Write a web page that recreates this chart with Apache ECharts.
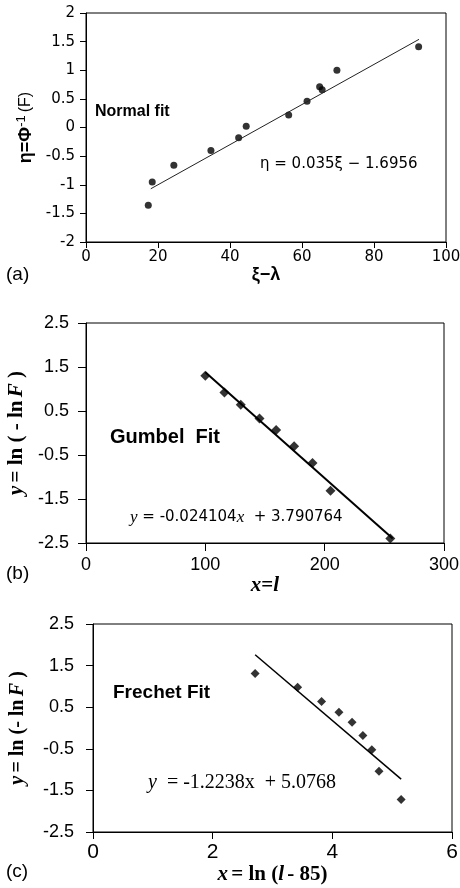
<!DOCTYPE html>
<html>
<head>
<meta charset="utf-8">
<script src="https://cdn.jsdelivr.net/npm/echarts@6/dist/echarts.min.js"></script>
<style>
  html, body { margin: 0; padding: 0; background: #fff; }
  #main { width: 460px; height: 888px; }
</style>
</head>
<body>
<div id="main"></div>
<script>
// (a) normal fit: xi - lambda vs eta
const normalPts = [
  [17.3, -1.36], [18.4, -0.95], [24.4, -0.66], [34.7, -0.40], [42.4, -0.18],
  [44.5, 0.02], [56.3, 0.22], [61.4, 0.46], [64.9, 0.71], [65.6, 0.66],
  [69.7, 1.00], [92.4, 1.41]
]
const normalFit = [[18, -1.07], [92.5, 1.54]]

// (b) Gumbel fit
const gumbelPts = [
  [100, 1.30], [116, 0.92], [129.7, 0.64], [145.4, 0.33], [159.3, 0.07],
  [174.4, -0.30], [189.8, -0.68], [204.9, -1.31], [255, -2.40]
]
const gumbelFit = [[100, 1.38], [257, -2.40]]

// (c) Frechet fit
const frechetPts = [
  [2.71, 1.31], [3.42, 0.98], [3.82, 0.64], [4.11, 0.38], [4.33, 0.14],
  [4.51, -0.18], [4.66, -0.52], [4.78, -1.04], [5.15, -1.72]
]
const frechetFit = [[2.71, 1.76], [5.15, -1.23]]

const chart = echarts.init(document.getElementById('main'))

const serif = '"Liberation Serif", "DejaVu Serif", serif'
const sans = '"Liberation Sans", Arial, sans-serif'
const wide = '"DejaVu Sans", sans-serif'

function xAxis (gi, min, max, step, font, size, margin, tick, name, gap, nameStyle) {
  return {
    type: 'value', gridIndex: gi, min: min, max: max, interval: step,
    axisLine: { show: true, onZero: false, lineStyle: { color: '#000', width: 1 } },
    axisTick: { show: true, length: tick, lineStyle: { color: '#000' } },
    axisLabel: { color: '#000', fontFamily: font, fontSize: size, margin: margin },
    splitLine: { show: false },
    name: name, nameLocation: 'middle', nameGap: gap, nameTextStyle: nameStyle
  }
}
function yAxis (gi, min, max, step, font, size, margin, tick, name, gap, nameStyle) {
  return {
    type: 'value', gridIndex: gi, min: min, max: max, interval: step,
    axisLine: { show: true, onZero: false, lineStyle: { color: '#000', width: 1 } },
    axisTick: { show: true, length: tick, lineStyle: { color: '#000' } },
    axisLabel: { color: '#000', fontFamily: font, fontSize: size, margin: margin },
    splitLine: { show: false },
    name: name, nameLocation: 'middle', nameGap: gap, nameRotate: 90, nameTextStyle: nameStyle
  }
}

function lnRich (size) {
  return {
    i: { fontFamily: serif, fontStyle: 'italic', fontWeight: 'bold', fontSize: size, color: '#000' },
    b: { fontFamily: serif, fontWeight: 'bold', fontSize: size, color: '#000' }
  }
}

const option = {
  animation: false,
  backgroundColor: '#fff',
  grid: [
    { left: 86, top: 13, width: 360, height: 229, show: true, borderColor: '#000', borderWidth: 1, outerBoundsMode: 'none' },
    { left: 86, top: 323, width: 358, height: 220, show: true, borderColor: '#000', borderWidth: 1, outerBoundsMode: 'none' },
    { left: 93, top: 624, width: 359, height: 208, show: true, borderColor: '#000', borderWidth: 1, outerBoundsMode: 'none' }
  ],
  xAxis: [
    xAxis(0, 0, 100, 20, wide, 15, 8, 6, 'ξ−λ', 22,
      { fontFamily: sans, fontWeight: 'bold', fontSize: 18, color: '#000' }),
    xAxis(1, 0, 300, 100, sans, 18, 13, 8, '{i|x}{b|=}{i|l}', 31, { rich: lnRich(21) }),
    xAxis(2, 0, 6, 2, sans, 21, 10, 7, '{i|x} {b|= ln (}{i|l} {b|- 85)}', 29, { rich: lnRich(21) })
  ],
  yAxis: [
    yAxis(0, -2, 2, 0.5, wide, 15, 11, 6, '{b|η=Φ}{s|-1}{r|(F)}', 48, {
      rich: {
        b: { fontFamily: sans, fontWeight: 'bold', fontSize: 18, color: '#000' },
        s: { fontFamily: sans, fontSize: 13, color: '#000', verticalAlign: 'top', padding: [0, 3, 8, 0] },
        r: { fontFamily: sans, fontSize: 16, color: '#000' }
      }
    }),
    yAxis(1, -2.5, 2.5, 1, sans, 18, 17, 8, '{i|y} {b|= ln ( - ln} {i|F }{b|)}', 49, { rich: lnRich(21) }),
    yAxis(2, -2.5, 2.5, 1, sans, 18, 19, 7, '{i|y} {b|= ln (- ln} {i|F }{b|)}', 65, { rich: lnRich(20) })
  ],
  series: [
    { type: 'scatter', xAxisIndex: 0, yAxisIndex: 0, data: normalPts, symbol: 'circle', symbolSize: 7, itemStyle: { color: '#000' } },
    { type: 'line', xAxisIndex: 0, yAxisIndex: 0, data: normalFit, showSymbol: false, lineStyle: { color: '#222', width: 1 } },
    { type: 'scatter', xAxisIndex: 1, yAxisIndex: 1, data: gumbelPts, symbol: 'diamond', symbolSize: 10, itemStyle: { color: '#000' } },
    { type: 'line', xAxisIndex: 1, yAxisIndex: 1, data: gumbelFit, showSymbol: false, lineStyle: { color: '#000', width: 2 } },
    { type: 'scatter', xAxisIndex: 2, yAxisIndex: 2, data: frechetPts, symbol: 'diamond', symbolSize: 9, itemStyle: { color: '#000' } },
    { type: 'line', xAxisIndex: 2, yAxisIndex: 2, data: frechetFit, showSymbol: false, lineStyle: { color: '#000', width: 1.5 } }
  ],
  graphic: [
    { type: 'text', left: 6, top: 265, style: { text: '(a)', font: '19px ' + sans, fill: '#000' } },
    { type: 'text', left: 6, top: 564, style: { text: '(b)', font: '19px ' + sans, fill: '#000' } },
    { type: 'text', left: 6, top: 862, style: { text: '(c)', font: '19px ' + sans, fill: '#000' } },
    { type: 'text', left: 95, top: 104, style: { text: 'Normal fit', font: 'bold 16px ' + sans, fill: '#000' } },
    { type: 'text', left: 260, top: 157, style: { text: 'η = 0.035ξ − 1.6956', font: '15px ' + wide, fill: '#000' } },
    { type: 'text', left: 110, top: 427, style: { text: 'Gumbel  Fit', font: 'bold 20px ' + sans, fill: '#000' } },
    { type: 'text', left: 130, top: 509, style: {
      text: '{i|y} = -0.024104{i|x}  + 3.790764',
      font: '15px ' + wide, fill: '#000',
      rich: { i: { fontFamily: serif, fontStyle: 'italic', fontSize: 17, fill: '#000' } }
    } },
    { type: 'text', left: 113, top: 683, style: { text: 'Frechet Fit', font: 'bold 19px ' + sans, fill: '#000' } },
    { type: 'text', left: 148, top: 773, style: {
      text: '{i|y}  = -1.2238x  + 5.0768',
      font: '20px ' + serif, fill: '#000',
      rich: { i: { fontFamily: serif, fontStyle: 'italic', fontSize: 20, fill: '#000' } }
    } }
  ]
}

chart.setOption(option)
</script>
</body>
</html>
